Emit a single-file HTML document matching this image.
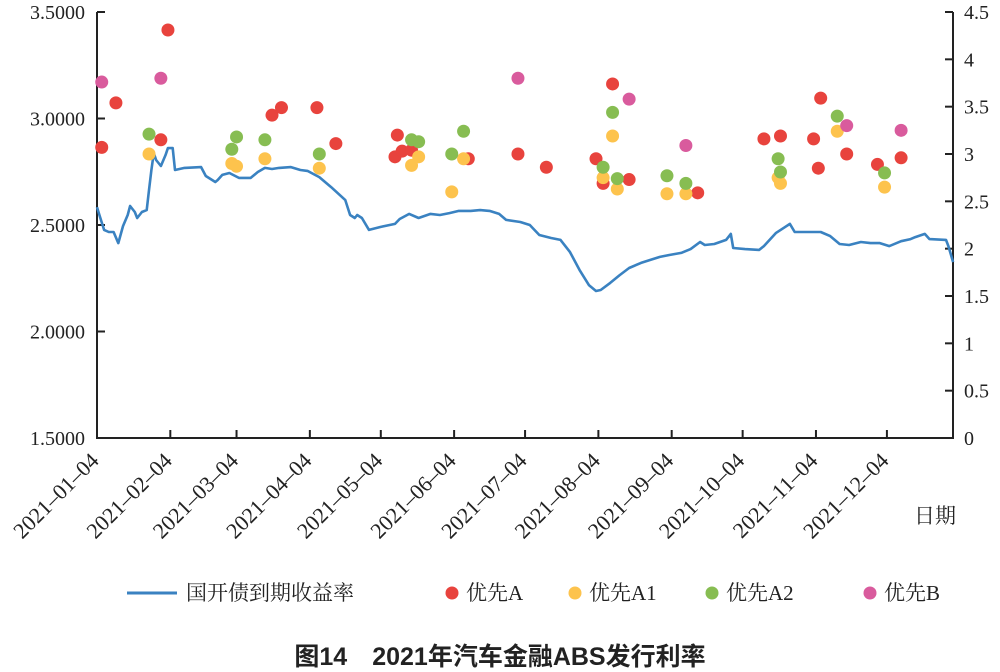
<!DOCTYPE html>
<html><head><meta charset="utf-8">
<style>
body{margin:0;background:#fff;}
svg{display:block;}
text{font-family:"Liberation Serif","Noto Serif CJK SC",serif;fill:#222;}
</style></head>
<body>
<svg id="chart" width="1000" height="672" viewBox="0 0 1000 672">
<g id="axes"></g><g id="marks"></g><g id="legend"></g>
<text x="500" y="665" text-anchor="middle" font-size="25" font-weight="bold" style="font-family:'Liberation Sans','Noto Sans CJK SC',sans-serif">图14　2021年汽车金融ABS发行利率</text>
</svg>
<script>
const leftTicks=["1.5000","2.0000","2.5000","3.0000","3.5000"];
const leftTickVals=[1.5,2.0,2.5,3.0,3.5];
const rightTicks=["0","0.5","1","1.5","2","2.5","3","3.5","4","4.5"];
const rightTickVals=[0,0.5,1,1.5,2,2.5,3,3.5,4,4.5];
const xTickLabels=["2021–01–04","2021–02–04","2021–03–04","2021–04–04","2021–05–04","2021–06–04","2021–07–04","2021–08–04","2021–09–04","2021–10–04","2021–11–04","2021–12–04"];
const xTickDays=[0,31,59,90,120,151,181,212,243,273,304,334];
const lineDays=[0,1,3,5,7,9,11,13,14,16,17,19,21,22,23,24,25,27,29,30,32,33,37,44,46,50,51,53,56,60,65,68,71,74,77,82,86,89,94,99,105,107,109,110,112,115,120,126,128,132,136,141,145,149,153,158,162,166,170,173,179,183,187,192,196,200,204,208,211,213,217,221,225,230,234,238,242,247,251,255,257,261,266,268,269,274,280,282,287,291,293,295,301,306,310,314,318,323,327,331,335,340,344,346,350,352,359,360,362];
const lineVals=[2.584,2.547,2.477,2.467,2.467,2.415,2.495,2.547,2.589,2.561,2.533,2.561,2.570,2.664,2.758,2.838,2.805,2.777,2.829,2.861,2.861,2.758,2.768,2.772,2.730,2.702,2.711,2.735,2.744,2.721,2.721,2.749,2.768,2.763,2.768,2.772,2.758,2.754,2.725,2.678,2.617,2.547,2.533,2.547,2.533,2.477,2.491,2.505,2.528,2.552,2.533,2.552,2.547,2.556,2.566,2.566,2.570,2.566,2.552,2.524,2.514,2.500,2.453,2.439,2.430,2.373,2.289,2.218,2.190,2.195,2.228,2.265,2.298,2.322,2.336,2.350,2.359,2.369,2.387,2.420,2.406,2.411,2.430,2.458,2.392,2.387,2.383,2.401,2.462,2.491,2.505,2.467,2.467,2.467,2.448,2.411,2.406,2.420,2.415,2.415,2.401,2.424,2.434,2.443,2.458,2.434,2.430,2.401,2.326];
const aDays=[2,8,27,30,74,78,93,101,126,129,127,133,157,178,190,211,214,218,225,254,282,289,303,305,306,317,330,340];
const aVals=[3.07,3.54,3.15,4.31,3.41,3.49,3.49,3.11,2.97,3.03,3.20,3.04,2.95,3.00,2.86,2.95,2.69,3.74,2.73,2.59,3.16,3.19,3.16,2.85,3.59,3.00,2.89,2.96];
const a1Days=[22,57,59,71,94,133,136,150,155,214,218,220,241,249,288,289,313,333];
const a1Vals=[3.00,2.90,2.87,2.95,2.85,2.88,2.97,2.60,2.95,2.75,3.19,2.63,2.58,2.58,2.75,2.69,3.24,2.65];
const a2Days=[22,57,59,71,94,133,136,150,155,214,218,220,241,249,288,289,313,333];
const a2Vals=[3.21,3.05,3.18,3.15,3.00,3.15,3.13,3.00,3.24,2.86,3.44,2.74,2.77,2.69,2.95,2.81,3.40,2.80];
const bDays=[2,27,178,225,249,317,340];
const bVals=[3.76,3.80,3.80,3.58,3.09,3.30,3.25];

const NS="http://www.w3.org/2000/svg";
const L=97,R=953,T=12,B=438;
const xS=d=>L+d*2.365;
const yL=v=>B-(v-1.5)/2*(B-T);
const yR=v=>B-v/4.5*(B-T);
function mk(tag,attrs,parent){const e=document.createElementNS(NS,tag);for(const k in attrs)e.setAttribute(k,attrs[k]);parent.appendChild(e);return e;}
const axes=document.getElementById('axes'),marks=document.getElementById('marks'),legend=document.getElementById('legend');
let e=mk('path',{d:`M${L},${T}V${B}H${R}V${T}`,fill:'none',stroke:'#222','stroke-width':2},axes);


leftTickVals.forEach((v,i)=>{
  const y=yL(v);
  let t=mk('line',{x1:L,x2:L+8,y1:y,y2:y,stroke:'#222','stroke-width':2},axes);
  
  
  let tx=mk('text',{x:L-12,y:y+7,'text-anchor':'end','font-size':20},axes);tx.textContent=leftTicks[i];
  
  
});
rightTickVals.forEach((v,i)=>{
  const y=yR(v);
  let t=mk('line',{x1:R-8,x2:R,y1:y,y2:y,stroke:'#222','stroke-width':2},axes);
  
  
  let tx=mk('text',{x:R+11,y:y+7,'font-size':20},axes);tx.textContent=rightTicks[i];
  
  
});
xTickDays.forEach((d,i)=>{
  const x=xS(d);
  let t=mk('line',{x1:x,x2:x,y1:B-8,y2:B,stroke:'#222','stroke-width':2},axes);
  
  
  let tx=mk('text',{x:x+3,y:B+24,'text-anchor':'end','font-size':22,transform:`rotate(-45 ${x+3} ${B+24})`},axes);tx.textContent=xTickLabels[i];
  
  
});
let xt=mk('text',{x:935,y:523,'text-anchor':'middle','font-size':21},axes);xt.textContent='日期';


let p=mk('path',{d:lineDays.map((d,i)=>(i?'L':'M')+xS(d).toFixed(1)+','+yL(lineVals[i]).toFixed(1)).join(''),fill:'none',stroke:'#3a82c1','stroke-width':2.6,'stroke-linejoin':'round'},marks);


const series=[[aDays,aVals,'#e8433d','dot-senior-a'],[a1Days,a1Vals,'#fdc34d','dot-senior-a1'],[a2Days,a2Vals,'#87bd52','dot-senior-a2'],[bDays,bVals,'#d95b9d','dot-senior-b']];
series.forEach(s=>{s[0].forEach((d,i)=>{
  let c=mk('circle',{cx:xS(d),cy:yR(s[1][i]),r:6.5,fill:s[2]},marks);
  
  
});});
let ll=mk('line',{x1:127,x2:177,y1:593,y2:593,stroke:'#3a82c1','stroke-width':3},legend);


let lt=mk('text',{x:186,y:600,'font-size':21},legend);lt.textContent='国开债到期收益率';


const legItems=[[452,'#e8433d','优先A'],[575,'#fdc34d','优先A1'],[712,'#87bd52','优先A2'],[870,'#d95b9d','优先B']];
legItems.forEach(it=>{
  let c=mk('circle',{cx:it[0],cy:593,r:6.5,fill:it[1]},legend);
  
  
  let t=mk('text',{x:it[0]+14,y:600,'font-size':21},legend);t.textContent=it[2];
  
  
});
</script>
</body></html>
